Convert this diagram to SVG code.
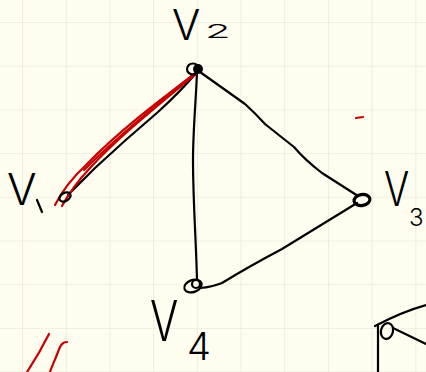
<svg xmlns="http://www.w3.org/2000/svg" width="426" height="372" viewBox="0 0 426 372">
<defs>
<pattern id="grid" x="22" y="22" width="43.7" height="43.7" patternUnits="userSpaceOnUse">
<path d="M0 0H43.7M0 0V43.7" fill="none" stroke="#E4E2D2" stroke-width="1.2"/>
</pattern>
<style>
.ink{fill:none;stroke:#000;stroke-width:2.2;stroke-linecap:round;stroke-linejoin:round}
.red{fill:none;stroke:#C80000;stroke-width:2.2;stroke-linecap:round;stroke-linejoin:round}
.lbl{font-family:Inter,Roboto,Lato,"Liberation Sans",sans-serif;font-weight:300;fill:#000}
</style>
</defs>
<rect width="426" height="372" fill="#FEFDF0"/>
<rect width="426" height="372" fill="url(#grid)"/>

<g id="connectors">
<path class="ink" d="M197 72 Q180 92 158 112 Q125 140 95 168 L68 195"/>
<path class="ink" d="M197 72 C196 100 193 130 193 160 C193 200 196 240 197 280"/>
<path class="ink" d="M200 72 L245 104 Q255 113 265 124 Q280 136 294 147 Q305 160 322 173 L358 196"/>
<path class="ink" d="M357 203 L282 249 Q248 267 222 283 Q212 287 200 288"/>
<path class="red" d="M193 75 C160 100 120 130 86 165 C70 180 60 195 55 205"/>
<path class="red" d="M198 72 C165 100 120 135 90 168 C76 183 68 195 62 206"/>
<path class="red" d="M195 73 C160 102 118 136 84 170"/>
</g>

<g id="node-v2">
<circle cx="198" cy="69" r="5" fill="#000"/>
<ellipse class="ink" cx="193" cy="69" rx="6" ry="5.5"/>
<text class="lbl" x="172" y="40" font-size="42">V</text>
<text class="lbl" x="205" y="38" font-size="19" transform="translate(205 38) scale(2.2 1) translate(-205 -38)">2</text>
</g>

<g id="node-v1">
<ellipse class="ink" cx="65" cy="197" rx="6" ry="4" transform="rotate(-30 65 197)"/>
<text class="lbl" x="7" y="205" font-size="44">V</text>
<path class="ink" d="M37 200 L42 212"/>
</g>

<g id="node-v3">
<ellipse cx="362" cy="200" rx="8" ry="5.5" fill="none" stroke="#000" stroke-width="3.2" transform="rotate(-10 362 200)"/>
<text class="lbl" x="384" y="206" font-size="48" transform="translate(384 206) scale(0.78 1) translate(-384 -206)">V</text>
<text class="lbl" x="409" y="226" font-size="24">3</text>
</g>

<g id="node-v4">
<ellipse class="ink" cx="193" cy="286" rx="9" ry="6" transform="rotate(-20 193 286)"/>
<circle class="ink" cx="196" cy="284" r="4"/>
<text class="lbl" x="150" y="341" font-size="56" transform="translate(150 341) scale(0.75 1) translate(-150 -341)">V</text>
<text class="lbl" x="187" y="360" font-size="38">4</text>
</g>

<g id="marks">
<path class="red" d="M356 118 L363 117"/>
<path class="red" d="M49 334 C42 348 35 360 27 372"/>
<path class="red" d="M67 342 C62 342 60 346 58 352 C55 360 52 366 50 372"/>
<path class="ink" d="M378 326 L378 372"/>
<path class="ink" d="M375 326 C390 318 408 310 426 305"/>
<path class="ink" d="M393 328 L426 344"/>
<ellipse class="ink" cx="387" cy="331" rx="6" ry="8" transform="rotate(15 387 331)"/>
</g>
</svg>
